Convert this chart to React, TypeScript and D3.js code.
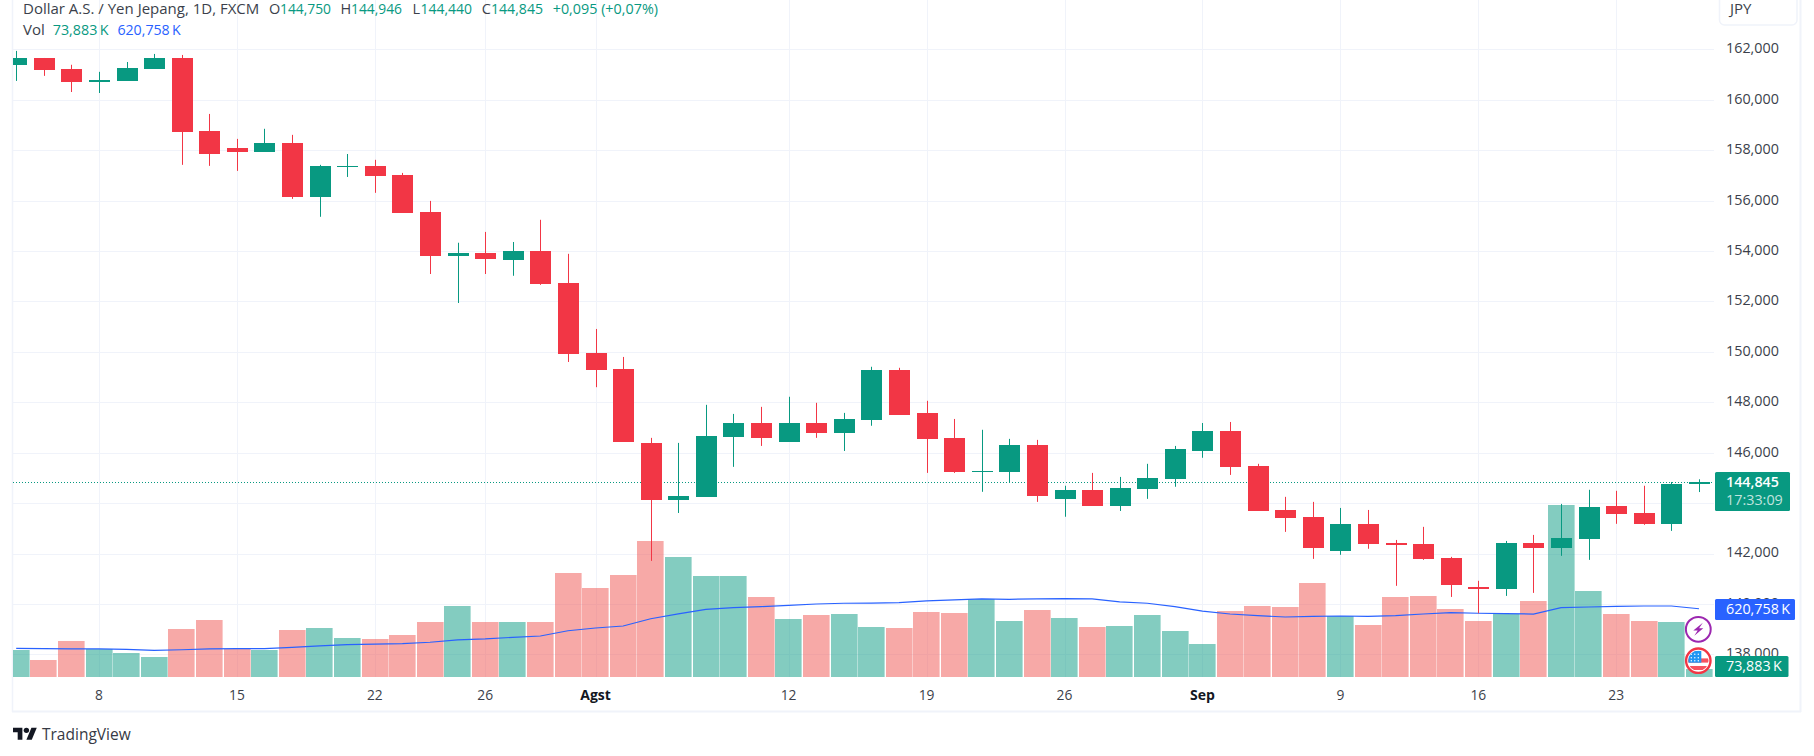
import React from "react";
import * as d3 from "d3";

/* DATA */
const dates = [
  "07-03", "07-04", "07-05", "07-08", "07-09", "07-10", "07-11", "07-12", "07-15", "07-16", "07-17",
  "07-18", "07-19", "07-22", "07-23", "07-24", "07-25", "07-26", "07-29", "07-30", "07-31", "08-01",
  "08-02", "08-05", "08-06", "08-07", "08-08", "08-09", "08-12", "08-13", "08-14", "08-15", "08-16",
  "08-19", "08-20", "08-21", "08-22", "08-23", "08-26", "08-27", "08-28", "08-29", "08-30", "09-02",
  "09-03", "09-04", "09-05", "09-06", "09-09", "09-10", "09-11", "09-12", "09-13", "09-16", "09-17",
  "09-18", "09-19", "09-20", "09-23", "09-24", "09-25", "09-26",
];
const opens = [
  161.39, 161.66, 161.23, 160.71, 160.75, 161.23, 161.66, 158.77, 158.09, 157.93, 158.29,
  156.15, 157.34, 157.38, 157.02, 155.55, 153.81, 153.93, 153.65, 154.01, 152.74, 149.96,
  149.33, 146.39, 144.13, 144.25, 146.63, 147.18, 146.43, 147.18, 146.79, 147.3, 149.29,
  147.58, 146.59, 145.24, 145.24, 146.31, 144.17, 144.53, 143.89, 144.57, 144.96, 146.07,
  146.87, 145.48, 143.73, 143.46, 142.11, 143.18, 142.42, 142.39, 141.83, 140.68, 140.6,
  142.42, 142.23, 142.58, 143.89, 143.61, 143.18, 144.75,
];
const closes = [
  161.66, 161.19, 160.71, 160.79, 161.27, 161.66, 158.73, 157.85, 157.93, 158.29, 156.15,
  157.38, 157.39, 156.98, 155.51, 153.81, 153.93, 153.69, 154.01, 152.7, 149.92, 149.29,
  146.43, 144.13, 144.29, 146.67, 147.18, 146.59, 147.18, 146.79, 147.34, 149.29, 147.5,
  146.55, 145.24, 145.28, 146.31, 144.29, 144.53, 143.89, 144.61, 145.0, 146.15, 146.87,
  145.44, 143.69, 143.42, 142.23, 143.18, 142.39, 142.35, 141.79, 140.76, 140.6, 142.42,
  142.23, 142.62, 143.85, 143.57, 143.18, 144.76, 144.845,
];
const highs = [
  161.94, 161.66, 161.39, 161.11, 161.5, 161.82, 161.78, 159.44, 158.45, 158.85, 158.61,
  157.42, 157.85, 157.62, 157.1, 155.99, 154.33, 154.76, 154.36, 155.24, 153.89, 150.91,
  149.8, 146.59, 146.39, 147.9, 147.54, 147.82, 148.22, 147.98, 147.58, 149.41, 149.37,
  148.06, 147.34, 146.91, 146.55, 146.51, 144.69, 145.2, 145.04, 145.56, 146.27, 147.18,
  147.22, 145.56, 144.25, 144.05, 143.81, 143.73, 142.54, 143.06, 141.87, 140.92, 142.5,
  142.74, 143.97, 144.53, 144.49, 144.69, 144.84, 144.946,
];
const lows = [
  160.75, 160.95, 160.31, 160.27, 160.75, 161.23, 157.42, 157.38, 157.18, 157.93, 156.07,
  155.36, 156.94, 156.31, 155.51, 153.09, 151.94, 153.09, 153.02, 152.66, 149.6, 148.6,
  146.43, 141.71, 143.61, 144.25, 145.44, 146.27, 146.43, 146.59, 146.07, 147.07, 147.5,
  145.2, 145.2, 144.45, 144.8, 144.05, 143.46, 143.89, 143.69, 144.17, 144.65, 145.8,
  145.12, 143.69, 142.86, 141.79, 141.95, 142.19, 140.72, 141.75, 140.28, 139.63, 140.32,
  140.44, 141.91, 141.75, 143.18, 143.14, 142.9, 144.44,
];
const volumes = [
  246, 155, 328, 255, 218, 182, 437, 519, 255, 246, 428, 446, 355, 346, 382, 500, 646, 500, 500, 500, 946, 810,
  928, 1238, 1092, 919, 919, 728, 528, 564, 573, 455, 446, 592, 582, 710, 510, 610, 537, 455, 464, 564, 419, 300,
  601, 646, 637, 855, 555, 473, 728, 737, 619, 510, 573, 692, 1565, 783, 573, 510, 500, 73.883,
];
const volumeMa = [
  261, 258, 256, 255, 252, 243, 248, 255, 258, 258, 270, 283, 294, 300, 303, 316, 337, 346, 361, 373, 421, 446,
  464, 530, 575, 615, 631, 640, 652, 664, 671, 673, 676, 692, 701, 710, 707, 710, 713, 710, 683, 671, 640, 600,
  573, 558, 546, 552, 555, 552, 558, 573, 585, 580, 576, 573, 631, 637, 643, 646, 646, 620.758,
];
const priceTicks = [138, 140, 142, 144, 146, 148, 150, 152, 154, 156, 158, 160, 162];
const hiddenPriceLabels = [144]; // sits behind the last price tag
const timeTicks = ["07-08", "07-15", "07-22", "07-26", "08-01", "08-12", "08-19", "08-26", "09-02", "09-09", "09-16", "09-23"];
const timeLabels = ["8", "15", "22", "26", "Agst", "12", "19", "26", "Sep", "9", "16", "23"];
const monthLabels = ["Agst", "Sep"];

const UP = "#089981";
const DOWN = "#f23645";
const GRID = "#f0f3fa";
const TEXT = "#3b3f4b";
const FONT = "'Open Sans', sans-serif";

const fmt3 = (v: number) => d3.format(".3f")(v).replace(".", ",");

// the source font has narrower digits than Open Sans, so numbers get squeezed to its widths
const numWidth = (s: string) =>
  s.split("").reduce((w, c) => w + (c >= "0" && c <= "9" ? 7.9 : c === "," ? 5.5 : c === ":" ? 4.7 : 7.6), 0);

function Num(props: any) {
  const { children, width, ...rest } = props;
  return (
    <text {...rest} fontSize={15} textLength={width ?? numWidth(children)} lengthAdjust="spacingAndGlyphs">
      {children}
    </text>
  );
}

function App() {
  const x = d3.scalePoint<string>().domain(dates).range([16.2, 1699]);
  const y = d3.scaleLinear().domain([138, 162]).range([654.4, 49.4]);
  const v = d3.scaleLinear().domain([0, 1565]).range([677, 505]);

  const maLine = d3
    .line<number>()
    .x((_, i) => x(dates[i]) as number)
    .y((d) => v(d));

  const isUp = (i: number) => closes[i] >= opens[i];
  const last = closes[closes.length - 1];
  const px = (n: number) => Math.round(n) + 0.5;

  return (
    <svg
      width={1814}
      height={756}
      style={{ position: "absolute", left: 0, top: 0, background: "#fff", display: "block" }}
      fontFamily={FONT}
    >
      <defs>
        <clipPath id="plot">
          <rect x={13} y={0} width={1701} height={677} />
        </clipPath>
        <clipPath id="flag">
          <circle r={10.2} />
        </clipPath>
      </defs>

      {/* grid */}
      {priceTicks.map((t) => (
        <line key={t} x1={13} x2={1714} y1={px(y(t))} y2={px(y(t))} stroke={GRID} />
      ))}
      {timeTicks.map((t, i) => (
        <line key={t + i} x1={px(x(t) as number)} x2={px(x(t) as number)} y1={0} y2={677} stroke={GRID} />
      ))}

      {/* pane borders */}
      <line x1={12.5} x2={12.5} y1={0} y2={712} stroke={GRID} strokeWidth={1.5} />
      <line x1={1800.5} x2={1800.5} y1={0} y2={712} stroke={GRID} strokeWidth={2} />
      <line x1={12} x2={1801} y1={711.5} y2={711.5} stroke={GRID} strokeWidth={2} />

      <g clipPath="url(#plot)">
        {/* volume */}
        {dates.map((d, i) => (
          <rect
            key={d}
            x={Math.round((x(d) as number) - 13.3)}
            width={26.6}
            y={Math.round(v(volumes[i]))}
            height={677 - Math.round(v(volumes[i]))}
            fill={isUp(i) ? UP : "#ef5350"}
            fillOpacity={0.5}
          />
        ))}
        {/* volume average */}
        <path d={maLine(volumeMa) as string} fill="none" stroke="#2962ff" strokeWidth={1.2} />

        {/* last price line */}
        <line
          x1={13}
          x2={1714}
          y1={px(y(last))}
          y2={px(y(last))}
          stroke={UP}
          strokeWidth={1}
          strokeDasharray="1 2"
        />

        {/* candles */}
        {dates.map((d, i) => {
          const cx = x(d) as number;
          const top = Math.round(y(Math.max(opens[i], closes[i])));
          const bottom = Math.round(y(Math.min(opens[i], closes[i])));
          const color = isUp(i) ? UP : DOWN;
          return (
            <g key={d}>
              <line x1={px(cx)} x2={px(cx)} y1={y(highs[i])} y2={y(lows[i])} stroke={color} />
              <rect x={Math.round(cx) - 10} width={21} y={top} height={Math.max(bottom - top, 1)} fill={color} />
            </g>
          );
        })}
      </g>

      {/* price axis */}
      {priceTicks
        .filter((t) => !hiddenPriceLabels.includes(t))
        .map((t) => (
          <Num key={t} x={1726} y={y(t) - 1.4} dy="0.35em" fill={TEXT}>
            {fmt3(t)}
          </Num>
        ))}

      {/* time axis */}
      {timeTicks.map((t, i) =>
        monthLabels.includes(timeLabels[i]) ? (
          <text
            key={t + i}
            x={x(t)}
            y={695}
            dy="0.35em"
            textAnchor="middle"
            fontSize={14}
            fontWeight={700}
            fill="#131722"
          >
            {timeLabels[i]}
          </text>
        ) : (
          <Num key={t + i} x={x(t)} y={695} dy="0.35em" textAnchor="middle" fill={TEXT}>
            {timeLabels[i]}
          </Num>
        )
      )}

      {/* currency button */}
      <path d="M1719.5 0V20a5 5 0 0 0 5 5H1792a5 5 0 0 0 5-5V0" fill="#fff" stroke={GRID} strokeWidth={1.5} />
      <text x={1730} y={8.7} dy="0.35em" fontSize={15} fill={TEXT}>
        JPY
      </text>

      {/* axis tags */}
      <rect x={1715} y={472} width={75} height={39} rx={1.5} fill={UP} />
      <Num x={1726} y={481.7} dy="0.35em" fontWeight={600} fill="#fff">
        {fmt3(last)}
      </Num>
      <Num x={1726} y={499.3} dy="0.35em" fill="#fff" fillOpacity={0.75}>
        17:33:09
      </Num>
      <rect x={1715} y={599} width={80} height={21} rx={1.5} fill="#2962ff" />
      <Num x={1726} y={609} dy="0.35em" fill="#fff" width={64}>
        {fmt3(volumeMa[volumeMa.length - 1]) + "\u2009K"}
      </Num>
      <rect x={1715} y={656} width={73.5} height={21} rx={1.5} fill={UP} />
      <Num x={1726} y={665.8} dy="0.35em" fill="#fff" width={55.7}>
        {fmt3(volumes[volumes.length - 1]) + "\u2009K"}
      </Num>

      {/* event badges */}
      <g transform="translate(1698.3,629.3)">
        <circle r={12.4} fill="#fff" stroke="#9c27b0" strokeWidth={2} />
        <path d="M4.5 -6.5L-5 1.2H-0.6L-4 6.5L5 -1H0.8Z" fill="#9c27b0" />
      </g>
      <g transform="translate(1698.3,660.7)">
        <circle r={12.2} fill="#fff" stroke="#f23645" strokeWidth={2.4} />
        <g clipPath="url(#flag)">
          <rect x={-11} y={-2.3} width={22} height={4.2} fill="#f7525f" />
          <rect x={-11} y={5.3} width={22} height={4} fill="#f7525f" />
          <rect x={-10} y={-10} width={13} height={12} fill="#2196f3" />
          {[-7, -3.5, 0].map((dx) =>
            [-6.5, -3, 0].map((dy) => <circle key={dx + "_" + dy} cx={dx} cy={dy} r={0.7} fill="#fff" />)
          )}
        </g>
      </g>

      {/* legend */}
      <g dominantBaseline="central">
        <text x={23} y={8} fontSize={15} fill={TEXT}>
          Dollar A.S. / Yen Jepang, 1D, FXCM
        </text>
        <text x={269} y={8} fontSize={14.5} fill={TEXT}>O</text>
        <Num x={280} y={8} fill={UP} width={51}>{fmt3(opens[61])}</Num>
        <text x={340.6} y={8} fontSize={14.5} fill={TEXT}>H</text>
        <Num x={351} y={8} fill={UP} width={51}>{fmt3(highs[61])}</Num>
        <text x={412.5} y={8} fontSize={14.5} fill={TEXT}>L</text>
        <Num x={420.5} y={8} fill={UP} width={51.5}>{fmt3(lows[61])}</Num>
        <text x={481.7} y={8} fontSize={14.5} fill={TEXT}>C</text>
        <Num x={491} y={8} fill={UP} width={52}>{fmt3(closes[61])}</Num>
        <Num x={552.7} y={8} fill={UP} width={105.3}>+0,095 (+0,07%)</Num>
        <text x={23} y={29} fontSize={15} fill={TEXT}>Vol</text>
        <Num x={52.7} y={29} fill={UP} width={55.8}>{fmt3(volumes[61]) + "\u2009K"}</Num>
        <Num x={117.4} y={29} fill="#2962ff" width={63.4}>{fmt3(volumeMa[61]) + "\u2009K"}</Num>
      </g>

      {/* logo */}
      <g transform="translate(13,725) scale(0.67)" fill="#131722">
        <path d="M14 22H7V11H0V4h14v18ZM28 22h-8l7.5-18h8L28 22Z" />
        <circle cx={20} cy={8} r={4} />
      </g>
      <text x={42} y={734.5} dy="0.35em" fontSize={15.5} fill="#363a45">
        TradingView
      </text>
    </svg>
  );
}

export default App;
